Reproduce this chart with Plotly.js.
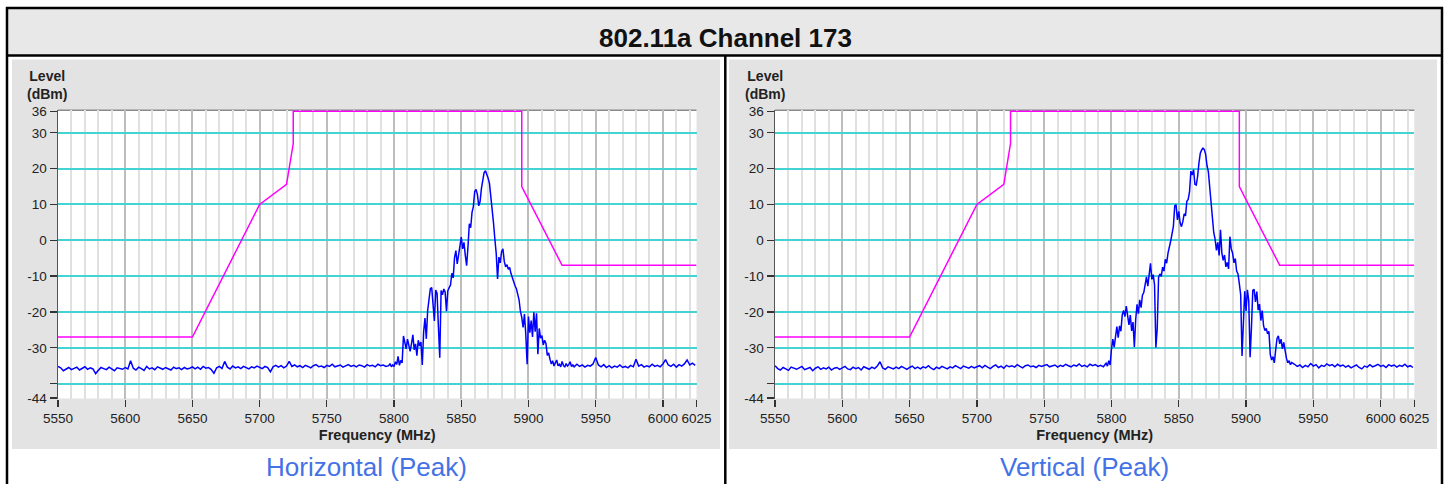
<!DOCTYPE html>
<html><head><meta charset="utf-8">
<script src="https://cdn.plot.ly/plotly-3.0.1.min.js"></script>
<style>html,body{margin:0;padding:0;background:#fff;}#chart{width:1450px;height:484px;}</style>
</head><body><div id="chart"></div>
<script>
// ---------- text ----------
const chartTitle = '802.11a Channel 173';
const panelCaptions = ['Horizontal (Peak)', 'Vertical (Peak)'];
const yAxisLabel = 'Level<br>(dBm)';
const xAxisLabel = 'Frequency (MHz)';

// ---------- ticks ----------
const xTickVals = [5550, 5600, 5650, 5700, 5750, 5800, 5850, 5900, 5950, 6000, 6025];
const xTickText = ['5550', '5600', '5650', '5700', '5750', '5800', '5850', '5900', '5950', '6000', '6025'];
const yTickVals = [36, 30, 20, 10, 0, -10, -20, -30, -40, -44];
const yTickText = ['36', '30', '20', '10', '0', '-10', '-20', '-30', '', '-44'];
const yGridVals = [30, 20, 10, 0, -10, -20, -30, -40];

// ---------- limit mask (dBm) ----------
const maskFreq = [5550, 5650, 5700, 5720, 5725, 5725, 5895, 5895, 5925, 6025];
const maskLevel = [-27, -27, 10, 15.6, 27, 36, 36, 15, -7, -7];

// ---------- spectrum frequency grid (MHz) ----------
const lowFloorStart = 5550, lowFloorStep = 2;
const bandStart = 5796, bandStep = 1;
const highFloorStart = 5936, highFloorStep = 2;

// ---------- Horizontal (Peak) levels, dBm ----------
const horizLowFloor = [
 -35.2,-35.6,-36.4,-35.9,-35.5,-36.1,-35.7,-35.4,-36.2,-35.8,-35.3,-36.0,-35.6,-35.9,-37.2,-36.3,-35.5,-35.8,-36.1,-35.4,-35.9,-36.4,-35.6,-35.8,-36.0,
 -35.5,-35.9,-33.6,-35.7,-36.2,-35.4,-35.8,-36.3,-35.2,-35.9,-35.6,-36.1,-35.3,-35.7,-36.0,-35.5,-35.9,-36.2,-35.4,-35.8,-35.6,-36.1,-35.5,-35.9,-35.7,
 -35.3,-35.9,-35.4,-36.0,-35.2,-35.7,-35.5,-36.1,-37.1,-35.6,-35.2,-35.8,-33.8,-35.4,-35.9,-35.1,-35.6,-35.3,-35.8,-35.2,-35.5,-35.9,-35.3,-35.6,-35.1,
 -35.4,-35.8,-35.2,-35.5,-36.7,-35.3,-34.9,-35.4,-35.0,-35.6,-35.1,-33.8,-35.2,-34.8,-35.3,-35.0,-35.5,-34.9,-35.2,-35.6,-35.0,-34.7,-35.3,-35.1,-35.5,
 -34.9,-35.2,-34.6,-35.3,-35.0,-34.8,-35.4,-35.1,-34.7,-35.2,-34.9,-35.3,-34.8,-35.0,-35.4,-34.7,-35.1,-34.9,-35.3,-34.6,-35.0,-34.8,-35.2
];
const horizBand = [
 -35.0,-34.4,-35.3,-34.8,-35.2,-33.9,-34.6,-32.4,-34.9,-33.5,
 -34.2,-26.7,-28.5,-30.3,-27.6,-29.4,-31.0,-28.8,-26.4,-30.6,
 -28.9,-32.2,-27.9,-29.5,-28.4,-34.8,-25.6,-21.7,-27.5,-19.6,
 -15.8,-13.5,-13.2,-18.4,-22.5,-13.9,-14.8,-24.1,-32.8,-14.0,
 -15.2,-13.6,-14.4,-19.8,-14.1,-13.2,-12.5,-9.2,-10.5,-4.8,
 -2.9,-6.6,-3.8,-1.5,0.9,-2.4,-0.6,-4.2,-7.1,-1.8,
 4.6,3.5,7.8,9.4,13.6,14.2,12.8,9.6,10.8,14.5,
 17.4,18.9,19.4,18.6,17.3,15.8,12.6,9.2,4.8,0.3,
 -3.6,-10.8,-4.7,-6.3,-3.1,-2.4,-5.9,-7.4,-6.8,-8.1,
 -7.6,-9.3,-10.6,-11.4,-12.7,-13.5,-15.1,-16.6,-19.8,-21.5,
 -24.3,-20.6,-26.2,-34.6,-21.3,-25.8,-22.4,-27.0,-20.1,-25.5,
 -20.4,-31.8,-24.6,-27.3,-26.6,-29.2,-27.9,-28.8,-32.1,-31.4,
 -33.2,-34.5,-33.6,-35.1,-34.2,-33.4,-35.0,-34.6,-35.3,-33.8,
 -34.9,-35.4,-34.4,-35.1,-34.7,-33.9,-35.2,-34.8,-35.3
];
const horizHighFloor = [
 -34.6,-35.2,-34.8,-35.4,-34.9,-35.1,-34.5,-32.7,-34.8,-35.3,
 -34.7,-35.5,-35.0,-35.6,-35.1,-35.4,-34.8,-35.5,-35.2,-35.6,
 -34.9,-35.3,-33.2,-35.1,-34.7,-35.4,-35.0,-35.3,-34.6,-35.2,
 -34.9,-35.3,-34.5,-33.3,-34.8,-35.2,-34.6,-35.4,-34.7,-35.1,
 -34.5,-33.4,-34.8,-34.3,-34.9
];

// ---------- Vertical (Peak) levels, dBm ----------
const vertLowFloor = [
 -35.0,-35.8,-36.2,-35.5,-35.9,-36.3,-35.4,-35.7,-36.0,-35.6,-35.2,-36.1,-35.8,-35.5,-36.4,-35.7,-35.3,-36.0,-35.6,-35.9,-35.4,-36.2,-35.7,-35.5,-36.0,
 -35.6,-35.2,-35.9,-36.1,-35.4,-35.8,-35.5,-36.2,-35.3,-35.7,-36.0,-35.4,-35.8,-35.1,-33.9,-35.6,-36.0,-35.3,-35.7,-35.9,-35.4,-35.8,-35.2,-35.6,-36.0,
 -35.5,-35.1,-35.8,-35.4,-35.9,-35.3,-35.6,-35.0,-35.7,-36.1,-35.4,-35.8,-35.2,-35.5,-35.9,-35.3,-35.6,-35.0,-35.4,-35.8,-35.1,-35.5,-35.7,-35.2,-35.6,
 -35.3,-35.0,-35.6,-34.9,-35.4,-35.8,-35.2,-34.8,-35.5,-35.1,-35.7,-34.9,-35.3,-35.0,-35.4,-34.7,-35.2,-35.6,-35.0,-34.8,-35.3,-35.1,-35.5,-34.9,-35.2,
 -35.0,-34.7,-35.3,-35.1,-34.8,-35.4,-34.9,-35.2,-34.6,-35.0,-35.3,-34.8,-35.1,-34.5,-35.2,-34.9,-35.3,-34.6,-35.0,-34.7,-35.2,-34.9,-35.3
];
const vertBand = [
 -34.3,-35.1,-33.6,-34.8,-30.4,-27.6,-29.8,-26.9,-24.1,-27.2,
 -23.9,-25.4,-20.8,-19.6,-21.3,-18.4,-21.5,-23.6,-20.9,-25.3,
 -22.8,-29.8,-22.1,-17.9,-20.5,-16.6,-18.8,-15.3,-14.6,-12.4,
 -10.2,-12.8,-9.1,-6.4,-10.9,-9.6,-12.4,-29.9,-24.6,-10.3,
 -9.4,-10.1,-7.5,-8.6,-5.3,-6.4,-3.6,-2.1,-0.2,1.8,
 3.9,9.6,9.9,5.7,8.1,4.9,3.8,5.2,7.4,6.8,
 10.9,11.4,13.6,19.3,18.2,19.7,15.6,15.4,17.8,21.6,
 24.3,25.2,25.7,25.3,23.9,20.8,19.1,14.8,10.6,6.2,
 2.1,0.3,-2.8,-0.6,-4.2,2.9,-3.5,-5.6,-4.1,-7.4,
 -6.2,-8.0,1.0,-2.4,-3.6,-6.3,-5.1,-8.6,-9.4,-12.1,
 -15.2,-32.3,-21.6,-14.2,-19.7,-13.8,-16.9,-32.6,-24.3,-14.0,
 -13.7,-17.2,-14.3,-19.5,-17.8,-22.4,-19.6,-23.8,-25.2,-24.6,
 -26.1,-25.4,-31.9,-33.4,-32.5,-34.2,-30.6,-27.4,-26.7,-28.9,
 -27.6,-30.3,-28.5,-31.1,-32.9,-34.2,-33.6,-34.7,-34.1
];
const vertHighFloor = [
 -34.6,-35.2,-34.8,-35.5,-34.9,-35.3,-34.4,-35.1,-34.7,-35.6,
 -34.9,-35.2,-34.5,-35.0,-34.7,-35.3,-34.6,-35.1,-34.8,-35.4,
 -35.0,-35.6,-35.2,-34.8,-35.5,-35.9,-35.1,-35.4,-34.7,-35.3,
 -35.0,-34.6,-35.2,-34.9,-35.5,-34.7,-35.1,-34.8,-35.4,-34.9,
 -35.2,-34.6,-35.3,-35.0,-35.5
];

// ---------- build frequency axis for each segment ----------
function segFreqs(start, step, n) { const f = []; for (let i = 0; i < n; i++) f.push(start + i * step); return f; }
function spectrum(low, band, high) {
  return {
    x: segFreqs(lowFloorStart, lowFloorStep, low.length)
        .concat(segFreqs(bandStart, bandStep, band.length))
        .concat(segFreqs(highFloorStart, highFloorStep, high.length)),
    y: low.concat(band, high)
  };
}
const hSpec = spectrum(horizLowFloor, horizBand, horizHighFloor);
const vSpec = spectrum(vertLowFloor, vertBand, vertHighFloor);

// ---------- style ----------
const W = 1450, H = 484;
const px = v => v / W, py = v => 1 - v / H;
const tickFont = {family: '"Liberation Sans", Arial, sans-serif', size: 13.5, color: '#222'};
const boldFont = {family: '"Liberation Sans", Arial, sans-serif', size: 14, color: '#222'};
const yRange = [-44.15, 36.3];
const xRange = [5550, 6025];
const yDomain = [py(398.5), py(110.2)];

function xAxis(domain, anchor) {
  return {
    domain: domain, anchor: anchor, range: xRange, type: 'linear',
    tickmode: 'array', tickvals: xTickVals, ticktext: xTickText,
    ticks: 'outside', ticklen: 7, tickwidth: 1.3, tickcolor: '#333',
    tickfont: tickFont, showline: false, zeroline: false,
    showgrid: true, gridcolor: '#bdbdbd', gridwidth: 2,
    minor: {tick0: 5550, dtick: 10, showgrid: true, gridcolor: '#e0e0e0', gridwidth: 2, ticks: ''},
    title: {text: '<b>' + xAxisLabel + '</b>', font: {family: '"Liberation Sans", Arial, sans-serif', size: 14.5, color: '#222'}, standoff: 5},
    fixedrange: true
  };
}
function yAxis(anchor) {
  return {
    domain: yDomain, anchor: anchor, range: yRange, type: 'linear',
    tickmode: 'array', tickvals: yTickVals, ticktext: yTickText,
    ticks: 'outside', ticklen: 7, tickwidth: 1.3, tickcolor: '#333',
    tickfont: tickFont, showline: true, linecolor: '#555', linewidth: 1.5,
    showgrid: false, zeroline: false, fixedrange: true
  };
}
function yGridAxis(over, anchor) {
  return {
    overlaying: over, anchor: anchor, range: yRange, type: 'linear',
    tickmode: 'array', tickvals: yGridVals, showticklabels: false, ticks: '',
    showgrid: true, gridcolor: '#45d2d2', gridwidth: 2,
    showline: false, zeroline: false, fixedrange: true
  };
}

const data = [
  {x: hSpec.x, y: hSpec.y, xaxis: 'x', yaxis: 'y', type: 'scatter', mode: 'lines',
   line: {color: '#0000ff', width: 1.5}, name: 'Horizontal', hoverinfo: 'x+y'},
  {x: maskFreq, y: maskLevel, xaxis: 'x', yaxis: 'y3', type: 'scatter', mode: 'lines',
   line: {color: '#ff00ff', width: 1.5}, name: 'Limit', hoverinfo: 'x+y'},
  {x: vSpec.x, y: vSpec.y, xaxis: 'x2', yaxis: 'y2', type: 'scatter', mode: 'lines',
   line: {color: '#0000ff', width: 1.5}, name: 'Vertical', hoverinfo: 'x+y'},
  {x: maskFreq, y: maskLevel, xaxis: 'x2', yaxis: 'y4', type: 'scatter', mode: 'lines',
   line: {color: '#ff00ff', width: 1.5}, name: 'Limit', hoverinfo: 'x+y'}
];

function rect(x0, y0, x1, y1, fill) {
  return {type: 'rect', xref: 'paper', yref: 'paper', x0: px(x0), x1: px(x1), y0: py(y1), y1: py(y0),
          fillcolor: fill, line: {width: 0}, layer: 'below'};
}
function hline(x0, x1, y, w) {
  return {type: 'line', xref: 'paper', yref: 'paper', x0: px(x0), x1: px(x1), y0: py(y), y1: py(y),
          line: {color: '#000', width: w}, layer: 'above'};
}
function vline(x, y0, y1, w) {
  return {type: 'line', xref: 'paper', yref: 'paper', x0: px(x), x1: px(x), y0: py(y0), y1: py(y1),
          line: {color: '#000', width: w}, layer: 'above'};
}

const shapes = [
  rect(7, 8, 1442, 55, '#e8e8e8'),
  rect(12, 59.5, 720, 449, '#e3e3e3'),
  rect(729, 59.5, 1437, 449, '#e3e3e3'),
  {type: 'rect', xref: 'x domain', yref: 'y domain', x0: 0, x1: 1, y0: 0, y1: 1, fillcolor: '#fff', line: {width: 0}, layer: 'below'},
  {type: 'rect', xref: 'x2 domain', yref: 'y2 domain', x0: 0, x1: 1, y0: 0, y1: 1, fillcolor: '#fff', line: {width: 0}, layer: 'below'},
  {type: 'line', xref: 'x domain', yref: 'y domain', x0: 0, x1: 1, y0: 1, y1: 1, line: {color: '#8a8a8a', width: 1.5}, layer: 'below'},
  {type: 'line', xref: 'x2 domain', yref: 'y2 domain', x0: 0, x1: 1, y0: 1, y1: 1, line: {color: '#8a8a8a', width: 1.5}, layer: 'below'},
  hline(6, 1443, 8, 2.5),
  hline(6, 1443, 55.5, 2.5),
  vline(7, 7, 484, 2.5),
  vline(1442, 7, 484, 2.5),
  vline(725.3, 55.5, 484, 2.5)
];

const annotations = [
  {text: '<b>' + chartTitle + '</b>', xref: 'paper', yref: 'paper', x: px(725), y: py(38), xanchor: 'center', yanchor: 'middle',
   showarrow: false, font: {family: '"Liberation Sans", Arial, sans-serif', size: 26, color: '#111'}},
  {text: '<b>' + yAxisLabel + '</b>', xref: 'paper', yref: 'paper', x: px(47), y: py(85), xanchor: 'center', yanchor: 'middle',
   showarrow: false, align: 'center', font: boldFont},
  {text: '<b>' + yAxisLabel + '</b>', xref: 'paper', yref: 'paper', x: px(765), y: py(85), xanchor: 'center', yanchor: 'middle',
   showarrow: false, align: 'center', font: boldFont},
  {text: panelCaptions[0], xref: 'paper', yref: 'paper', x: px(366), y: py(467), xanchor: 'center', yanchor: 'middle',
   showarrow: false, font: {family: '"Liberation Sans", Arial, sans-serif', size: 26, color: '#4472e6'}},
  {text: panelCaptions[1], xref: 'paper', yref: 'paper', x: px(1084), y: py(467), xanchor: 'center', yanchor: 'middle',
   showarrow: false, font: {family: '"Liberation Sans", Arial, sans-serif', size: 26, color: '#4472e6'}}
];

const layout = {
  width: W, height: H, margin: {l: 0, r: 0, t: 0, b: 0},
  paper_bgcolor: '#fff', plot_bgcolor: '#fff', showlegend: false,
  xaxis: xAxis([px(58), px(696.5)], 'y'),
  yaxis: yAxis('x'),
  xaxis2: xAxis([px(775), px(1414.3)], 'y2'),
  yaxis2: yAxis('x2'),
  yaxis3: yGridAxis('y', 'x'),
  yaxis4: yGridAxis('y2', 'x2'),
  shapes: shapes, annotations: annotations,
  font: {family: '"Liberation Sans", Arial, sans-serif'}
};

Plotly.newPlot('chart', data, layout, {displayModeBar: false, staticPlot: true});
</script></body></html>
